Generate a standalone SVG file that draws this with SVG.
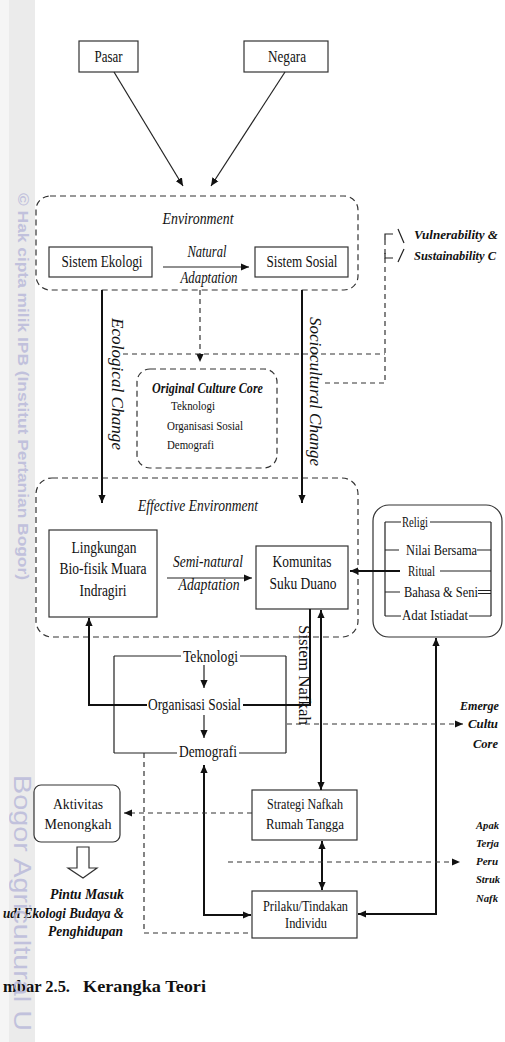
<svg xmlns="http://www.w3.org/2000/svg" width="505" height="1042" viewBox="0 0 505 1042">
<style>
.t{font-family:"Liberation Serif","Times New Roman",serif;fill:#111;font-size:16px}
.s{font-size:14px}
.xs{font-size:13px}
.i{font-style:italic}
.bi{font-style:italic;font-weight:bold}
.b{font-weight:bold}
.m{text-anchor:middle}
.box{fill:#fff;stroke:#333;stroke-width:1.2}
.dbox{fill:none;stroke:#333;stroke-width:1.2;stroke-dasharray:6 4}
.ln{fill:none;stroke:#222;stroke-width:1.2}
.thk{fill:none;stroke:#111;stroke-width:2}
.dl{fill:none;stroke:#333;stroke-width:1.2;stroke-dasharray:5 4}
.wm{font-family:"Liberation Sans",Arial,sans-serif;fill:#bdbddb}
</style>
<defs>
<marker id="ah" viewBox="0 0 10 10" refX="10" refY="5" markerWidth="8" markerHeight="8" markerUnits="userSpaceOnUse" orient="auto-start-reverse"><path d="M0,0.5 L10,5 L0,9.5 z" fill="#111"/></marker>
</defs>
<rect x="0" y="0" width="505" height="1042" fill="#fff"/>
<rect x="0" y="0" width="9" height="1042" fill="#f5f5f5"/>
<rect x="9" y="0" width="26" height="1042" fill="#ebebeb"/>

<g id="pasar"><rect class="box" x="79" y="41" width="59" height="31"/><text class="t m" x="108.5" y="62" textLength="28" lengthAdjust="spacingAndGlyphs">Pasar</text></g>
<g id="negara"><rect class="box" x="244" y="41" width="84" height="31"/><text class="t m" x="287" y="62" textLength="38" lengthAdjust="spacingAndGlyphs">Negara</text></g>

<g id="environment">
<rect class="dbox" x="36" y="196" width="322" height="94" rx="14"/>
<text class="t i m" x="198" y="224" textLength="71" lengthAdjust="spacingAndGlyphs">Environment</text>
<text class="t i m" x="207" y="257" textLength="39" lengthAdjust="spacingAndGlyphs">Natural</text>
<text class="t i m" x="209" y="283" textLength="57" lengthAdjust="spacingAndGlyphs">Adaptation</text>
</g>
<g id="sistem-ekologi"><rect class="box" x="49" y="247" width="103" height="30"/><text class="t m" x="102" y="267" textLength="81" lengthAdjust="spacingAndGlyphs">Sistem Ekologi</text></g>
<g id="sistem-sosial"><rect class="box" x="255" y="247" width="93" height="30"/><text class="t m" x="302" y="267" textLength="71" lengthAdjust="spacingAndGlyphs">Sistem Sosial</text></g>

<g id="vulnerability">
<text class="t bi" style="font-size:13px" x="414" y="239" textLength="84" lengthAdjust="spacingAndGlyphs">Vulnerability &amp;</text>
<text class="t bi" style="font-size:12.5px" x="414" y="260" textLength="82" lengthAdjust="spacingAndGlyphs">Sustainability C</text>
</g>

<g id="original-culture-core">
<rect class="dbox" x="137" y="369" width="140" height="99" rx="13"/>
<text class="t bi s" x="152" y="393" textLength="111" lengthAdjust="spacingAndGlyphs">Original Culture Core</text>
<text class="t xs" x="171" y="410" textLength="44" lengthAdjust="spacingAndGlyphs">Teknologi</text>
<text class="t xs" x="167" y="430" textLength="76" lengthAdjust="spacingAndGlyphs">Organisasi Sosial</text>
<text class="t xs" x="167" y="449" textLength="47" lengthAdjust="spacingAndGlyphs">Demografi</text>
</g>

<g id="effective-environment">
<rect class="dbox" x="36" y="478" width="322" height="159" rx="16"/>
<text class="t i m" x="198" y="511" textLength="120" lengthAdjust="spacingAndGlyphs">Effective Environment</text>
<text class="t i m" x="208" y="567" textLength="70" lengthAdjust="spacingAndGlyphs">Semi-natural</text>
<text class="t i m" x="209" y="590" textLength="61" lengthAdjust="spacingAndGlyphs">Adaptation</text>
</g>
<g id="lingkungan"><rect class="box" x="49" y="530" width="108" height="87"/>
<text class="t m" x="104" y="553" textLength="65" lengthAdjust="spacingAndGlyphs">Lingkungan</text>
<text class="t m" x="103" y="574" textLength="87" lengthAdjust="spacingAndGlyphs">Bio-fisik Muara</text>
<text class="t m" x="103" y="596" textLength="47" lengthAdjust="spacingAndGlyphs">Indragiri</text></g>
<g id="komunitas"><rect class="box" x="256" y="546" width="92" height="63"/>
<text class="t m" x="302" y="567" textLength="59" lengthAdjust="spacingAndGlyphs">Komunitas</text>
<text class="t m" x="303" y="589" textLength="67" lengthAdjust="spacingAndGlyphs">Suku Duano</text></g>

<g id="religi">
<rect class="box" x="373" y="505" width="129" height="132" rx="16"/>
<path class="ln" d="M385,522 V616 M491,522 V616 M385,522 H401 M430,522 H491 M385,550 H399 M477,550 H491 M440,571 H491 M385,592 H400 M478,590.5 H491 M478,593.5 H491 M385,616 H401 M469,616 H491"/>
<text class="t" style="font-size:15px" x="402" y="527" textLength="26" lengthAdjust="spacingAndGlyphs">Religi</text>
<text class="t" style="font-size:15px" x="406" y="555" textLength="71" lengthAdjust="spacingAndGlyphs">Nilai Bersama</text>
<text class="t" style="font-size:15px" x="408" y="576" textLength="27" lengthAdjust="spacingAndGlyphs">Ritual</text>
<text class="t" style="font-size:15px" x="404" y="597" textLength="74" lengthAdjust="spacingAndGlyphs">Bahasa &amp; Seni</text>
<text class="t" style="font-size:15px" x="402" y="620" textLength="66" lengthAdjust="spacingAndGlyphs">Adat Istiadat</text>
</g>

<g id="culture-core-bracket">
<path class="ln" d="M114,656 V753 M286,656 V753 M114,656 H181 M240,656 H286 M114,753 H177 M239,753 H286 M114,705 H146 M243,705 H286"/>
<text class="t" x="183" y="662" textLength="55" lengthAdjust="spacingAndGlyphs">Teknologi</text>
<text class="t" x="148" y="710" textLength="93" lengthAdjust="spacingAndGlyphs">Organisasi Sosial</text>
<text class="t" x="179" y="757" textLength="58" lengthAdjust="spacingAndGlyphs">Demografi</text>
</g>

<g id="emergent">
<text class="t bi" style="font-size:12.5px" x="460" y="710" textLength="39" lengthAdjust="spacingAndGlyphs">Emerge</text>
<text class="t bi" style="font-size:13px" x="468" y="728" textLength="30" lengthAdjust="spacingAndGlyphs">Cultu</text>
<text class="t bi" style="font-size:13px" x="473" y="748" textLength="25" lengthAdjust="spacingAndGlyphs">Core</text>
</g>

<g id="aktivitas"><rect class="box" x="34" y="785" width="86" height="57" rx="7"/>
<text class="t s m" x="78" y="809" textLength="50" lengthAdjust="spacingAndGlyphs">Aktivitas</text>
<text class="t s m" x="78" y="829" textLength="67" lengthAdjust="spacingAndGlyphs">Menongkah</text></g>
<g id="strategi"><rect class="box" x="252" y="790" width="105" height="50"/>
<text class="t s m" x="305" y="809" textLength="76" lengthAdjust="spacingAndGlyphs">Strategi Nafkah</text>
<text class="t s m" x="305" y="829" textLength="78" lengthAdjust="spacingAndGlyphs">Rumah Tangga</text></g>
<g id="prilaku"><rect class="box" x="252" y="891" width="105" height="47"/>
<text class="t s m" x="305.5" y="911" textLength="85" lengthAdjust="spacingAndGlyphs">Prilaku/Tindakan</text>
<text class="t s m" x="306" y="928" textLength="42" lengthAdjust="spacingAndGlyphs">Individu</text></g>

<g id="apakah">
<text class="t bi" style="font-size:11px" x="476" y="829" textLength="23" lengthAdjust="spacingAndGlyphs">Apak</text>
<text class="t bi" style="font-size:11px" x="476" y="847" textLength="23" lengthAdjust="spacingAndGlyphs">Terja</text>
<text class="t bi" style="font-size:11px" x="476" y="865" textLength="22" lengthAdjust="spacingAndGlyphs">Peru</text>
<text class="t bi" style="font-size:11px" x="476" y="883" textLength="24" lengthAdjust="spacingAndGlyphs">Struk</text>
<text class="t bi" style="font-size:11px" x="476" y="902" textLength="22" lengthAdjust="spacingAndGlyphs">Nafk</text>
</g>

<g id="pintu-masuk">
<path d="M77,847 H89 V868 H97 L83,878 L68,868 H77 Z" fill="#fff" stroke="#333" stroke-width="1.2"/>
<text class="t bi" style="font-size:15px" x="124" y="899" text-anchor="end" textLength="74" lengthAdjust="spacingAndGlyphs">Pintu Masuk</text>
<text class="t bi" style="font-size:14px" x="3" y="918" textLength="121" lengthAdjust="spacingAndGlyphs">udi Ekologi Budaya &amp;</text>
<text class="t bi" style="font-size:15px" x="123" y="936" text-anchor="end" textLength="75" lengthAdjust="spacingAndGlyphs">Penghidupan</text>
</g>

<g id="connectors">
<path class="ln" d="M114,72 L183,186" marker-end="url(#ah)"/>
<path class="ln" d="M285,72 L211,186" marker-end="url(#ah)"/>
<path class="ln" d="M163,267 H249" marker-end="url(#ah)"/>
<path class="thk" d="M102,290 V503" marker-end="url(#ah)"/>
<path class="thk" d="M302,290 V503" marker-end="url(#ah)"/>
<path class="dl" d="M200,290 V362" marker-end="url(#ah)"/>
<path class="dl" d="M123,354 H385"/>
<path class="dl" d="M385,240 V383 H322"/>
<path class="ln" d="M385,240 V234 H393 M398,229 L404,243 M385,253 V258 H393 M398,262 L404,249"/>
<path class="ln" d="M167,578 H252" marker-end="url(#ah)"/>
<path class="thk" d="M400,571 H350" marker-end="url(#ah)"/>
<path class="thk" d="M310,609 V705 H243 M147,705 H89 V618" marker-end="url(#ah)"/>
<path class="thk" d="M321,790 V610" marker-start="url(#ah)" marker-end="url(#ah)"/>
<path class="thk" d="M322,841 V890" marker-start="url(#ah)" marker-end="url(#ah)"/>
<path class="thk" d="M204,765 V915 H251" marker-start="url(#ah)" marker-end="url(#ah)"/>
<path class="thk" d="M358,914 H436 V638" marker-start="url(#ah)" marker-end="url(#ah)"/>
<path class="ln" d="M204,665 V688" marker-end="url(#ah)"/>
<path class="ln" d="M204,715 V738" marker-end="url(#ah)"/>
<path class="dl" d="M287,724 H463" marker-end="url(#ah)"/>
<path class="dl" d="M228,862 H460" marker-end="url(#ah)"/>
<path class="dl" d="M252,813 H124" marker-end="url(#ah)"/>
<path class="dl" d="M144,753 V933 H252"/>
</g>

<g id="rotated-labels">
<text class="t i" transform="translate(112,318) rotate(90)" textLength="132" lengthAdjust="spacingAndGlyphs">Ecological Change</text>
<text class="t i" transform="translate(310,317) rotate(90)" textLength="149" lengthAdjust="spacingAndGlyphs">Sociocultural Change</text>
<text class="t" transform="translate(299,625) rotate(90)" textLength="100" lengthAdjust="spacingAndGlyphs">Sistem Nafkah</text>
</g>

<g id="caption">
<text class="t b" style="font-size:17px" x="3" y="992" textLength="67" lengthAdjust="spacingAndGlyphs">mbar 2.5.</text>
<text class="t b" style="font-size:17px" x="83" y="992" textLength="123" lengthAdjust="spacingAndGlyphs">Kerangka Teori</text>
</g>

<g id="watermark" opacity="0.9">
<text class="wm" style="font-size:14px;font-weight:bold" transform="translate(18,193) rotate(90)" textLength="387" lengthAdjust="spacingAndGlyphs">© Hak cipta milik IPB (Institut Pertanian Bogor)</text>
<text class="wm" style="font-size:24px" transform="translate(14,775) rotate(90)" textLength="256" lengthAdjust="spacingAndGlyphs">Bogor Agricultural U</text>
</g>
</svg>
